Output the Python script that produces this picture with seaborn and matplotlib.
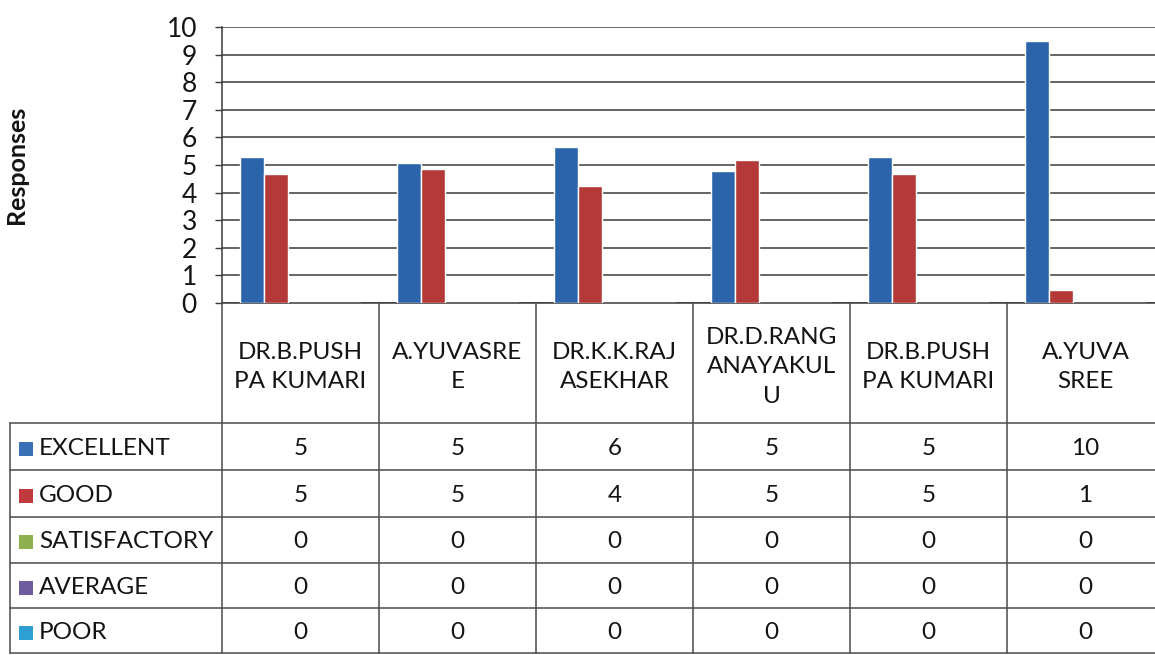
import numpy as np
import pandas as pd
import matplotlib
matplotlib.use("Agg")
import matplotlib.pyplot as plt
from matplotlib.lines import Line2D
from matplotlib.patches import Rectangle
from matplotlib.transforms import blended_transform_factory
import seaborn as sns

# ---------------- data ----------------
categories = ["DR.B.PUSHPA KUMARI", "A.YUVASREE", "DR.K.K.RAJASEKHAR",
              "DR.D.RANGANAYAKULU", "DR.B.PUSHPA KUMARI", "A.YUVA SREE"]
header_labels = ["DR.B.PUSH\nPA KUMARI", "A.YUVASRE\nE", "DR.K.K.RAJ\nASEKHAR",
                 "DR.D.RANG\nANAYAKUL\nU", "DR.B.PUSH\nPA KUMARI", "A.YUVA\nSREE"]
series = ["EXCELLENT", "GOOD", "SATISFACTORY", "AVERAGE", "POOR"]

# bar heights as drawn in the picture
excellent = [5.3, 5.06, 5.67, 4.78, 5.28, 9.5]
good = [4.67, 4.84, 4.25, 5.18, 4.67, 0.46]
satisfactory = [0, 0, 0, 0, 0, 0]
average = [0, 0, 0, 0, 0, 0]
poor = [0, 0, 0, 0, 0, 0]

# values printed in the data table
table_excellent = ["5", "5", "6", "5", "5", "10"]
table_good = ["5", "5", "4", "5", "5", "1"]
table_satisfactory = ["0", "0", "0", "0", "0", "0"]
table_average = ["0", "0", "0", "0", "0", "0"]
table_poor = ["0", "0", "0", "0", "0", "0"]

yticks = [0, 1, 2, 3, 4, 5, 6, 7, 8, 9, 10]
ylabel = "Responses"

bar_colors = ["#2C64AC", "#B43A3A", "#8DB04A", "#6E5B9E", "#2EA0D0"]
key_colors = ["#3A70B6", "#C0393B", "#8EB04F", "#6E5C9E", "#2D9FD3"]

# ---------------- figure ----------------
sns.set_style("white")
plt.rcParams["font.family"] = ["Lato", "DejaVu Sans"]

W, H = 1155, 655
fig = plt.figure(figsize=(W / 100, H / 100), dpi=100)

def fy(py):
    return 1 - py / H

def fx(px):
    return px / W

TXT = "#141414"
ax_left, ax_right, ax_top, ax_bot = 222, 1164, 27, 303
ax_w = (ax_right - ax_left) / W
ax = fig.add_axes([fx(ax_left), fy(ax_bot), ax_w, (ax_bot - ax_top) / H])

values = [excellent, good, satisfactory, average, poor]
rows = []
for s, vals in zip(series, values):
    for i, v in enumerate(vals):
        rows.append({"idx": i, "series": s, "value": v})
df = pd.DataFrame(rows)

sns.barplot(data=df, x="idx", y="value", hue="series", hue_order=series,
            palette=bar_colors, width=0.765, saturation=1, ax=ax,
            legend=False, errorbar=None, zorder=3)

ax.set_xlim(-0.5, len(categories) - 0.5)
ax.set_ylim(0, 10)
ax.set_yticks(yticks)
ax.set_yticklabels([str(t) for t in yticks], fontsize=19, color=TXT)
ax.set_xticks([])
ax.set_xlabel("")
ax.set_ylabel(ylabel, fontsize=18, fontweight="bold", color=TXT)
ax.yaxis.set_label_coords((fx(28) - fx(ax_left)) / ax_w, 0.5)
ax.yaxis.grid(True, color="#3a3a3a", linewidth=1.1, zorder=0)
ax.set_axisbelow(True)
ax.tick_params(axis="y", length=5, width=1, color="#3a3a3a", pad=13, direction="out", left=True)
for sp in ["top", "right"]:
    ax.spines[sp].set_visible(False)
for sp in ["left", "bottom"]:
    ax.spines[sp].set_color("#3a3a3a")
    ax.spines[sp].set_linewidth(1.1)

# ---------------- data table ----------------
trans = blended_transform_factory(ax.transData, fig.transFigure)
line_kw = dict(color="#4a4a4a", linewidth=1.1)

row_bounds = [423, 470, 517, 563, 608, 653]
for i in range(len(categories) + 1):
    x = i - 0.5
    fig.add_artist(Line2D([x, x], [fy(ax_bot), fy(row_bounds[-1])], transform=trans, **line_kw))
fig.add_artist(Line2D([fx(10), fx(10)], [fy(row_bounds[0]), fy(row_bounds[-1])],
                      transform=fig.transFigure, **line_kw))
for yb in row_bounds:
    fig.add_artist(Line2D([fx(10), 1.0], [fy(yb), fy(yb)], transform=fig.transFigure, **line_kw))

for i, lab in enumerate(header_labels):
    fig.text(i, fy(367), lab, transform=trans, ha="center", va="center",
             fontsize=17.5, linespacing=1.5, color=TXT)

table_rows = [table_excellent, table_good, table_satisfactory, table_average, table_poor]
for r, (s, vals) in enumerate(zip(series, table_rows)):
    yc = (row_bounds[r] + row_bounds[r + 1]) / 2 + 2
    fig.add_artist(Rectangle((fx(19), fy(yc + 7)), 14 / W, 14 / H,
                             transform=fig.transFigure, facecolor=key_colors[r],
                             edgecolor="none"))
    fig.text(fx(39), fy(yc), s, ha="left", va="center", fontsize=17.5, color=TXT)
    for i, v in enumerate(vals):
        fig.text(i, fy(yc), v, transform=trans, ha="center", va="center",
                 fontsize=17.5, color=TXT)

fig.savefig("out.png", dpi=100)
